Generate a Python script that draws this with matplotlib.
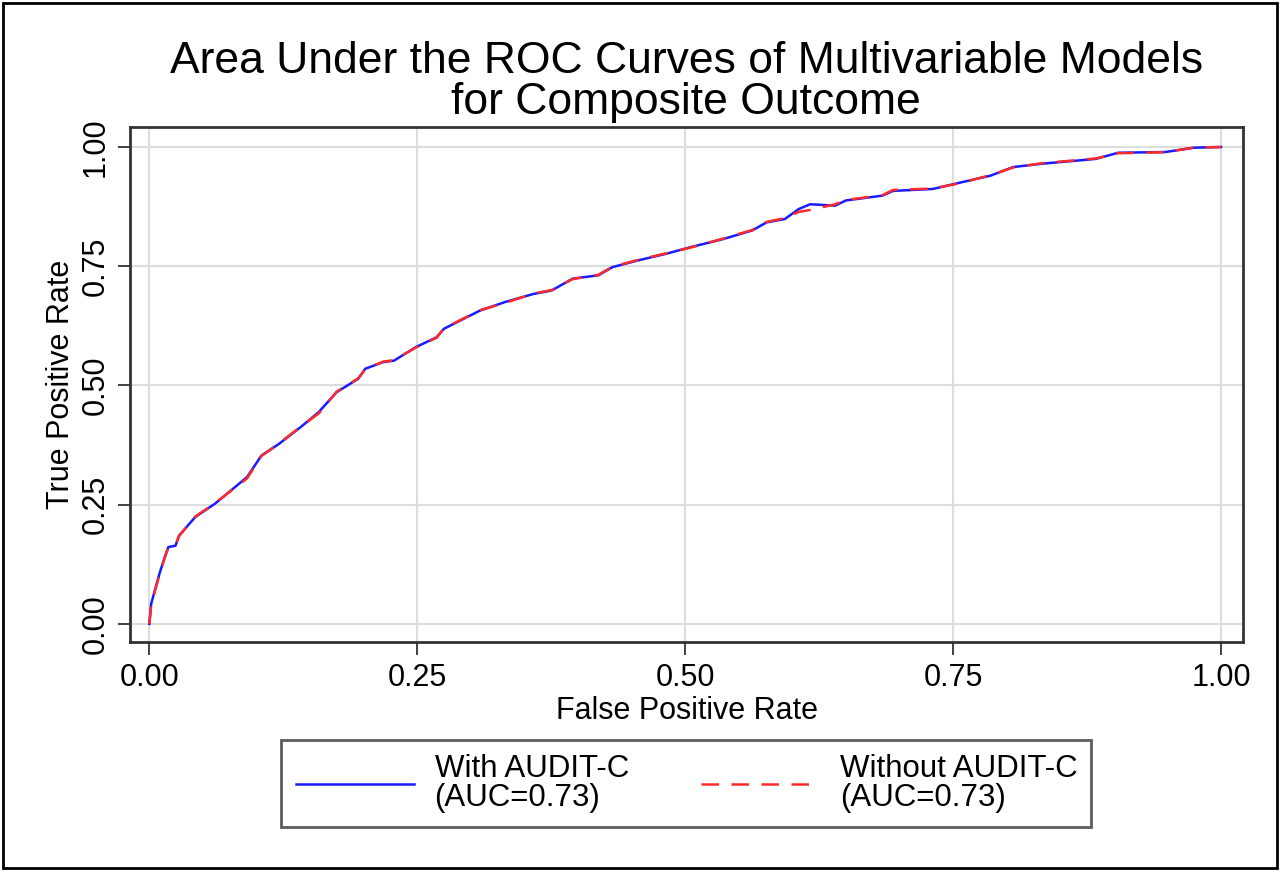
import matplotlib
matplotlib.use("Agg")
import matplotlib.pyplot as plt
from matplotlib.patches import Rectangle

plt.rcParams['font.family'] = ['Liberation Sans', 'DejaVu Sans']

title = "Area Under the ROC Curves of Multivariable Models\nfor Composite Outcome"
xlabel = "False Positive Rate"
ylabel = "True Positive Rate"
ticks = [0.0, 0.25, 0.5, 0.75, 1.0]
tick_labels = ["0.00", "0.25", "0.50", "0.75", "1.00"]

fpr_with = [0.0, 0.0017, 0.0094, 0.0144, 0.0177, 0.0244, 0.0277, 0.0428, 0.0612, 0.0779,
            0.0912, 0.1046, 0.1213, 0.1414, 0.158, 0.1748, 0.1949, 0.2015, 0.2182, 0.2283,
            0.2483, 0.268, 0.275, 0.3085, 0.332, 0.3586, 0.3753, 0.395, 0.419, 0.432,
            0.4555, 0.482, 0.505, 0.5355, 0.5625, 0.576, 0.593, 0.606, 0.6166, 0.640,
            0.650, 0.684, 0.694, 0.731, 0.752, 0.785, 0.806, 0.833, 0.883, 0.904,
            0.948, 0.975, 1.0]
tpr_with = [0.0, 0.042, 0.105, 0.140, 0.161, 0.164, 0.185, 0.224, 0.252, 0.283,
            0.308, 0.353, 0.378, 0.413, 0.444, 0.486, 0.514, 0.535, 0.549, 0.552,
            0.580, 0.601, 0.619, 0.657, 0.675, 0.692, 0.699, 0.724, 0.731, 0.748,
            0.762, 0.776, 0.790, 0.807, 0.825, 0.842, 0.849, 0.870, 0.880, 0.877,
            0.888, 0.898, 0.908, 0.912, 0.923, 0.940, 0.958, 0.965, 0.975, 0.988,
            0.9895, 0.9986, 1.0]

fpr_without = [0.0, 0.0017, 0.0094, 0.0144, 0.0177, 0.0244, 0.0277, 0.0428, 0.0612, 0.0779,
               0.0912, 0.1046, 0.1213, 0.1414, 0.158, 0.1748, 0.1949, 0.2015, 0.2182, 0.2283,
               0.2483, 0.268, 0.275, 0.3085, 0.332, 0.3586, 0.3753, 0.395, 0.419, 0.432,
               0.4555, 0.482, 0.505, 0.5355, 0.5625, 0.576, 0.593, 0.606, 0.6166, 0.640,
               0.650, 0.684, 0.694, 0.731, 0.752, 0.785, 0.806, 0.833, 0.883, 0.904,
               0.948, 0.975, 1.0]
tpr_without = [0.0, 0.040, 0.103, 0.139, 0.160, 0.165, 0.184, 0.225, 0.253, 0.282,
               0.305, 0.352, 0.379, 0.414, 0.441, 0.487, 0.515, 0.534, 0.550, 0.553,
               0.579, 0.600, 0.620, 0.658, 0.673, 0.693, 0.700, 0.723, 0.732, 0.749,
               0.763, 0.777, 0.789, 0.808, 0.826, 0.843, 0.851, 0.864, 0.868, 0.880,
               0.889, 0.899, 0.910, 0.913, 0.922, 0.941, 0.957, 0.966, 0.976, 0.987,
               0.989, 0.999, 1.0]

labels = ["With AUDIT-C\n(AUC=0.73)", "Without AUDIT-C\n(AUC=0.73)"]

fig = plt.figure(figsize=(12.8, 8.71), dpi=100)
fig.patch.set_facecolor('white')
fig.add_artist(Rectangle((0.002, 0.003), 0.996, 0.994, transform=fig.transFigure,
                         fill=False, edgecolor='black', linewidth=2))

ax = fig.add_axes([0.1016, 0.2629, 0.8695, 0.5913])
ax.plot(fpr_with, tpr_with, color='#1a1aff', lw=1.8, label=labels[0], zorder=3)
ax.plot(fpr_without, tpr_without, color='#ff2a2a', lw=1.8, ls=(0, (7, 5)), label=labels[1], zorder=4)

ax.set_xlim(-0.018, 1.0205)
ax.set_ylim(-0.038, 1.042)
ax.set_xticks(ticks)
ax.set_xticklabels(tick_labels)
ax.set_yticks(ticks)
ax.set_yticklabels(tick_labels, rotation=90, va='center')
ax.tick_params(axis='both', labelsize=22, length=9, width=1.3, color='#333333', pad=6)
ax.tick_params(axis='y', pad=5)
ax.grid(True, color='#dddddd', lw=1.5)
ax.set_axisbelow(True)
for s in ax.spines.values():
    s.set_color('#333333')
    s.set_linewidth(2)

ax.set_xlabel(xlabel, fontsize=22, labelpad=2)
ax.set_ylabel(ylabel, fontsize=22, labelpad=3)
fig.text(0.536, 0.906, title, ha='center', va='center', fontsize=32, linespacing=1.0)

handles, lbls = ax.get_legend_handles_labels()
leg = fig.legend(handles, lbls, loc='center', bbox_to_anchor=(0.5363, 0.1005), ncol=2,
                 fontsize=22.5, handlelength=3.8, columnspacing=2.3, handletextpad=0.65,
                 fancybox=False, edgecolor='#333333', frameon=True, borderpad=0.45,
                 labelspacing=0.2, borderaxespad=0)
for t in leg.get_texts():
    t.set_linespacing(0.95)
leg.get_frame().set_linewidth(2)

fig.savefig('out.png', dpi=100, facecolor='white')
